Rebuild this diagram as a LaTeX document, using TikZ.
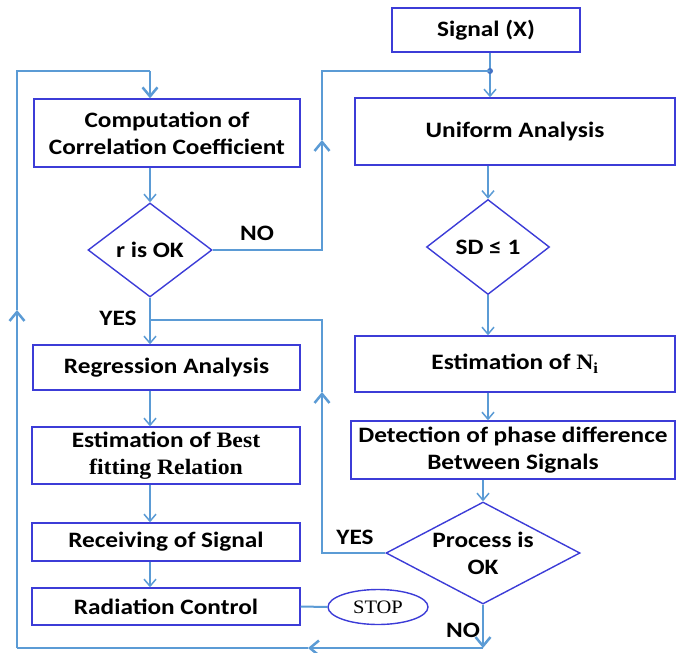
\documentclass[tikz,border=0pt]{standalone}
\usepackage{fontspec}
\setmainfont[FakeStretch=1.15]{Carlito}
\newfontfamily\tms[FakeStretch=1.08]{Liberation Serif}
\usetikzlibrary{shapes.geometric,arrows.meta}
\definecolor{boxblue}{RGB}{60,60,215}
\definecolor{lineblue}{RGB}{91,155,213}
\definecolor{dotblue}{RGB}{68,114,196}
\begin{document}
\begin{tikzpicture}[x=1pt,y=-1pt,
  font=\fontsize{22}{27}\selectfont\bfseries,
  box/.style={draw=boxblue,line width=1.4pt,rectangle,inner sep=0pt,align=center},
  dia/.style={draw=boxblue,line width=1.4pt,diamond,inner sep=0pt},
  txt/.style={align=center,inner sep=0pt},
  flow/.style={draw=lineblue,line width=1.5pt,-{Straight Barb[length=7pt,width=12pt]}},
  loopline/.style={draw=lineblue,line width=2.5pt},
  looparrow/.style={loopline,-{Straight Barb[length=9pt,width=15pt]}}]
\useasboundingbox (0,0) rectangle (676,652);
% right column
\node[box,minimum width=188pt,minimum height=44pt] (sig) at (486,30) {Signal (X)};
\node[box,minimum width=320pt,minimum height=67pt] (uni) at (515,131.5) {Uniform Analysis};
\node[dia,minimum width=123pt,minimum height=95pt] (sd) at (488,247) {};
\node[txt] (sdt) at (sd.center) {SD ≤ 1};
\node[box,minimum width=320pt,minimum height=56pt] (ni) at (515,364) {Estimation of {\tms N}\textsubscript{\tms i}};
\node[box,minimum width=324pt,minimum height=58pt] (det) at (513,450) {Detection of phase difference\\Between Signals};
\node[dia,minimum width=194pt,minimum height=102pt] (proc) at (483,553) {};
\node[txt] (proct) at (proc.center) {Process is\\OK};
% left column
\node[box,minimum width=266pt,minimum height=68pt] (comp) at (167,133) {Computation of\\Correlation Coefficient};
\node[dia,minimum width=124pt,minimum height=94pt] (rok) at (150,250) {};
\node[txt] (rokt) at (rok.center) {r is OK};
\node[box,minimum width=267pt,minimum height=45pt] (reg) at (166.5,367.5) {Regression Analysis};
\node[box,minimum width=268pt,minimum height=57pt] (best) at (166,455.5) {Estimation of {\tms Best}\\{\tms fitting Relation}};
\node[box,minimum width=268pt,minimum height=38pt] (rec) at (166,542) {Receiving of Signal};
\node[box,minimum width=268pt,minimum height=37pt] (rad) at (166,606.5) {Radiation Control};
\node[draw=boxblue,line width=1.4pt,ellipse,minimum width=100pt,minimum height=35pt,inner sep=0pt,font=\tms\fontsize{19}{21}\selectfont] (stop) at (378,607) {STOP};
% labels
\node (lno1) at (257,233) {NO};
\node (lyes1) at (118,318) {YES};
\node (lyes2) at (355,537) {YES};
\node (lno2) at (463,630) {NO};
% coordinates
\coordinate (j) at (490,71);
\coordinate (n1) at (322,250);
\coordinate (n2) at (322,140);
\coordinate (n3) at (322,71);
\coordinate (y1) at (322,553);
\coordinate (y2) at (322,392);
\coordinate (y3) at (322,320);
\coordinate (y4) at (150,320);
\coordinate (b1) at (483,648);
\coordinate (b2) at (308,648);
\coordinate (b3) at (17,648);
\coordinate (b4) at (17,310);
\coordinate (b5) at (17,71);
\coordinate (b6) at (150,71);
% flow arrows
\draw[flow] (j |- sig.south) -- (j |- uni.north);
\fill[dotblue] (j) circle (3pt);
\draw[flow] (sd.north |- uni.south) -- (sd.north);
\draw[flow] (sd.south) -- (sd.south |- ni.north);
\draw[flow] (sd.south |- ni.south) -- (sd.south |- det.north);
\draw[flow] (proc.north |- det.south) -- (proc.north);
\draw[flow] (rok.north |- comp.south) -- (rok.north);
\draw[flow] (rok.south) -- (rok.south |- reg.north);
\draw[flow] (rok.south |- reg.south) -- (rok.south |- best.north);
\draw[flow] (rok.south |- best.south) -- (rok.south |- rec.north);
\draw[flow] (rok.south |- rec.south) -- (rok.south |- rad.north);
\draw[lineblue,line width=2pt] (rad.east) -- (stop.west);
% NO loop from r is OK
\draw[looparrow] (rok.east) -- (n1) -- (n2);
\draw[loopline] (n2) -- (n3) -- (j);
% YES loop from process
\draw[looparrow] (proc.west) -- (y1) -- (y2);
\draw[loopline] (y2) -- (y3) -- (y4);
% NO loop from process
\draw[looparrow] (proc.south) -- (b1);
\draw[looparrow] (b1) -- (b2);
\draw[loopline] (b2) -- (b3);
\draw[looparrow] (b3) -- (b4);
\draw[loopline] (b4) -- (b5) -- (b6);
\draw[looparrow] (b6) -- (rok.north |- comp.north);
\end{tikzpicture}
\end{document}
